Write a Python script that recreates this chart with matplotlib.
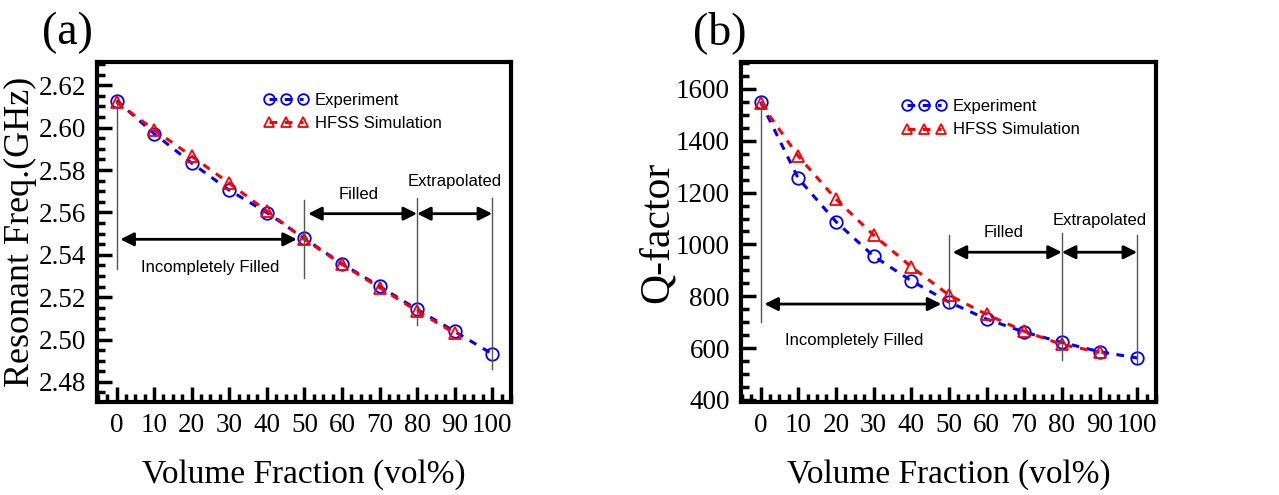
import matplotlib
matplotlib.use("Agg")
import matplotlib.pyplot as plt
from matplotlib.ticker import MultipleLocator

# volume fraction (vol%)
vf = [0, 10, 20, 30, 40, 50, 60, 70, 80, 90, 100]
vf_sim = [0, 10, 20, 30, 40, 50, 60, 70, 80, 90]

# (a) resonant frequency, GHz
freq_exp = [2.6128, 2.5972, 2.5833, 2.5705, 2.5599, 2.5477, 2.5358, 2.5251, 2.5142, 2.5038, 2.4932]
freq_sim = [2.6120, 2.5990, 2.5865, 2.5738, 2.5606, 2.5473, 2.5355, 2.5245, 2.5135, 2.5030]

# (b) Q-factor
q_exp = [1551, 1255, 1088, 955, 860, 778, 712, 662, 622, 586, 562]
q_sim = [1545, 1341, 1175, 1036, 914, 805, 730, 665, 614, 584]

serif = ['Liberation Serif', 'DejaVu Serif']
sans = ['Liberation Sans', 'DejaVu Sans']

W, H = 1279, 495
fig = plt.figure(figsize=(W / 100, H / 100), dpi=100)
ax1 = fig.add_axes([97 / W, 93 / H, 414 / W, 340 / H])
ax2 = fig.add_axes([741 / W, 93 / H, 415 / W, 340 / H])


def style(ax, ymaj, ymin):
    for s in ax.spines.values():
        s.set_linewidth(3)
    ax.set_xlim(-5.2, 105)
    ax.xaxis.set_major_locator(MultipleLocator(10))
    ax.xaxis.set_minor_locator(MultipleLocator(2.5))
    ax.yaxis.set_major_locator(MultipleLocator(ymaj))
    ax.yaxis.set_minor_locator(MultipleLocator(ymin))
    ax.tick_params(which='both', direction='in', top=False, right=False, width=2.5)
    ax.tick_params(which='major', length=11, pad=8, labelsize=19.5)
    ax.tick_params(which='minor', length=6)
    for lab in ax.get_xticklabels() + ax.get_yticklabels():
        lab.set_family(serif)
    ax.set_xlabel('Volume Fraction (vol%)', family=serif, fontsize=24, labelpad=15)


def arrow(ax, x0, x1, y):
    ax.annotate('', xy=(x1, y), xytext=(x0, y),
                arrowprops=dict(arrowstyle='<|-|>', color='black', lw=2,
                                mutation_scale=20, shrinkA=0, shrinkB=0))


def panel(ax, ye, ys, vlines, y_inc, y_fil, t_inc, t_fil, t_ext):
    ax.plot(vf, ye, ls=(0, (2.5, 2.5)), color='blue', lw=2.2, marker='o', ms=9,
            mfc='none', mec='blue', mew=1.3, label='Experiment')
    ax.plot(vf_sim, ys, ls=(0, (2.5, 2.5)), color='red', lw=2.2, marker='^', ms=9,
            mfc='none', mec='red', mew=1.3, label='HFSS Simulation')
    for x, y0, y1 in vlines:
        ax.plot([x, x], [y0, y1], color='#555555', lw=1)
    arrow(ax, 1, 48, y_inc)
    arrow(ax, 51, 80, y_fil)
    arrow(ax, 80, 100, y_fil)
    ax.text(24.8, t_inc, 'Incompletely Filled', family=sans, fontsize=12, ha='center', va='center')
    ax.text(64.5, t_fil, 'Filled', family=sans, fontsize=12, ha='center', va='center')
    ax.text(90, t_ext, 'Extrapolated', family=sans, fontsize=12, ha='center', va='center')


def legend(ax, x, y):
    ax.legend(loc='upper left', bbox_to_anchor=(x, y), frameon=False, numpoints=3,
              markerscale=0.85, handlelength=2.64, handletextpad=0.42, labelspacing=0.5,
              prop={'family': sans, 'size': 12})


# (a)
style(ax1, 0.02, 0.005)
ax1.set_ylim(2.4705, 2.631)
ax1.set_yticks([2.48, 2.50, 2.52, 2.54, 2.56, 2.58, 2.60, 2.62])
ax1.set_yticklabels(['2.48', '2.50', '2.52', '2.54', '2.56', '2.58', '2.60', '2.62'], family=serif)
panel(ax1, freq_exp, freq_sim,
      [(0, 2.612, 2.5335), (50, 2.566, 2.529), (80, 2.5668, 2.507), (100, 2.5668, 2.4862)],
      2.5473, 2.5594, 2.534, 2.5684, 2.5747)
ax1.set_ylabel('Resonant Freq.(GHz)', family=serif, fontsize=26, labelpad=1)
legend(ax1, 0.367, 0.953)
fig.text(42 / W, 1 - 33 / H, '(a)', family=serif, fontsize=33, va='center', ha='left')

# (b)
style(ax2, 200, 50)
ax2.set_ylim(392, 1704)
panel(ax2, q_exp, q_sim,
      [(0, 1550, 702), (50, 1036, 760), (80, 1043, 554), (100, 1036, 542)],
      770, 970, 628, 1047, 1094)
ax2.set_ylabel('Q-factor', family=serif, fontsize=30, labelpad=-1)
legend(ax2, 0.352, 0.935)
fig.text(693 / W, 1 - 33 / H, '(b)', family=serif, fontsize=33, va='center', ha='left')

fig.savefig('out.png', dpi=100)
